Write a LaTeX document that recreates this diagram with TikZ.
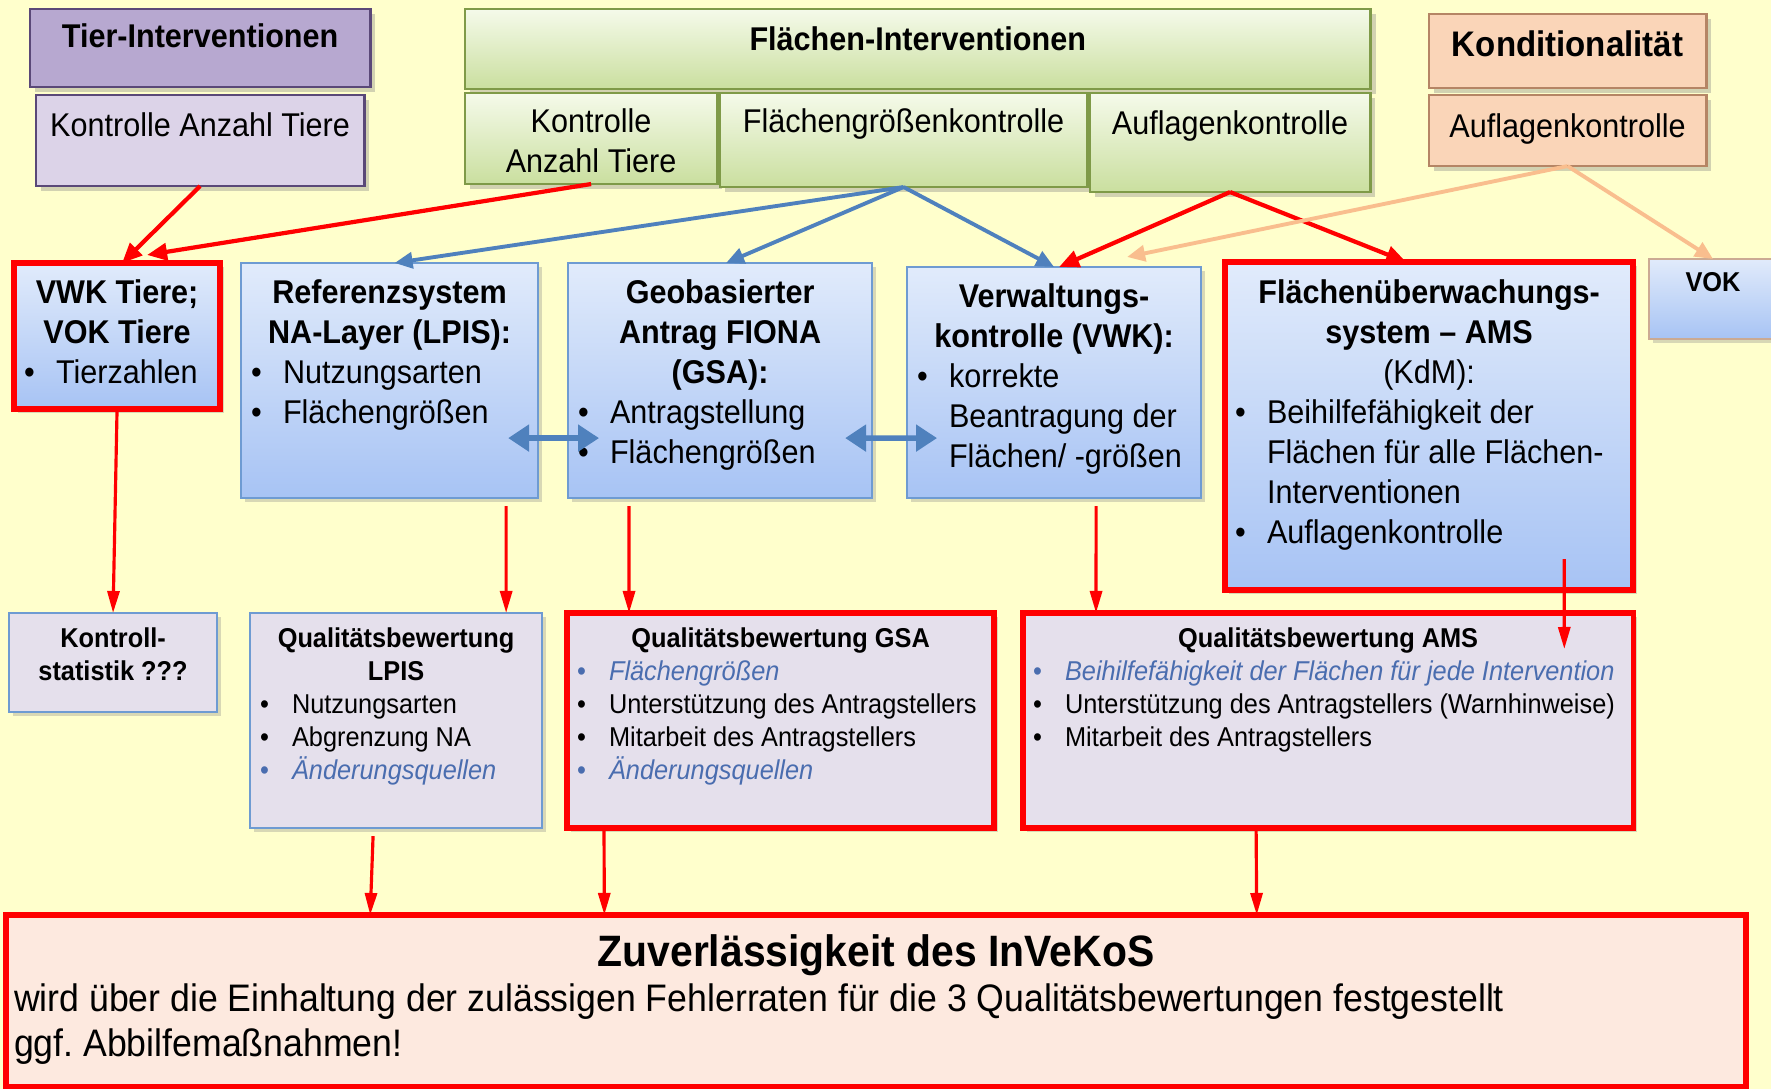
\documentclass[tikz,border=0pt]{standalone}
\usepackage{fontspec}
\setmainfont{Liberation Sans}[FakeStretch=0.93]
\usepackage{tikz}
\usetikzlibrary{arrows.meta, positioning, shadows}

\definecolor{bggelb}{HTML}{FFFFCC}
\definecolor{lilakopf}{HTML}{B7A8D0}
\definecolor{lilahell}{HTML}{DCD3E8}
\definecolor{lilarand}{HTML}{5A4878}
\definecolor{gruenoben}{HTML}{F5FAEA}
\definecolor{gruenunten}{HTML}{CADF9F}
\definecolor{gruenrand}{HTML}{7F9A48}
\definecolor{pfirsichfill}{HTML}{FAD5B8}
\definecolor{pfirsichrand}{HTML}{B58565}
\definecolor{pfeilpfirsich}{HTML}{F9BE8E}
\definecolor{blauoben}{HTML}{E1EBFB}
\definecolor{blauunten}{HTML}{A7C3F4}
\definecolor{blaurand}{HTML}{6E9BD2}
\definecolor{pfeilblau}{HTML}{4F81BD}
\definecolor{lavendel}{HTML}{E5E0EC}
\definecolor{rosa}{HTML}{FDE9DF}
\definecolor{itblau}{HTML}{4A6DAF}

\newcommand{\itm}[2][black]{\par\hangindent=0.34cm\hangafter=1\noindent
  \makebox[0.34cm][l]{\hspace{0.02cm}\textcolor{#1}{\textbullet}}#2}
\newcommand{\itmb}[1]{\itm[itblau]{\textcolor{itblau}{\itshape #1}}}
\frenchspacing

\begin{document}
\begin{tikzpicture}[
    x = 0.01cm, y = -0.01cm,
    box/.style = {anchor=north west, inner xsep=0.08cm, inner ysep=0pt, outer sep=0pt},
    oben/.style = {box, align=flush center, font=\fontsize{9.35}{11.4}\selectfont, line width=0.8pt,
      drop shadow={opacity=0.35, shadow xshift=0.05cm, shadow yshift=-0.05cm}},
    lila/.style = {oben, fill=lilakopf, draw=lilarand},
    lilasub/.style = {oben, fill=lilahell, draw=lilarand},
    gruen/.style = {oben, top color=gruenoben, bottom color=gruenunten, draw=gruenrand},
    pfirsich/.style = {oben, fill=pfirsichfill, draw=pfirsichrand},
    mitte/.style = {box, align=flush left, font=\fontsize{9.35}{11.4}\selectfont,
      top color=blauoben, bottom color=blauunten, draw=blaurand, line width=0.6pt,
      drop shadow={opacity=0.3, shadow xshift=0.04cm, shadow yshift=-0.04cm}},
    unten/.style = {box, align=flush left, font=\fontsize{7.75}{9.4}\selectfont,
      fill=lavendel, draw=blaurand, line width=0.6pt,
      drop shadow={opacity=0.3, shadow xshift=0.04cm, shadow yshift=-0.04cm}},
    rotrand/.style = {draw=red, line width=1.6pt},
    rotpfeil/.style = {red, line width=1.2pt, -{Triangle[length=0.2cm, width=0.17cm]}},
    rotlinie/.style = {red, line width=0.9pt, -{Triangle[length=0.22cm, width=0.12cm]}},
    blaupf/.style = {pfeilblau, line width=1.1pt, -{Triangle[length=0.18cm, width=0.16cm]}},
    pfirsichpf/.style = {pfeilpfirsich, line width=1.1pt, -{Triangle[length=0.18cm, width=0.16cm]}},
    doppelpf/.style = {pfeilblau, line width=1.6pt,
      {Triangle[length=0.21cm, width=0.26cm]}-{Triangle[length=0.21cm, width=0.26cm]}}
    ]

  \useasboundingbox (0,0) rectangle (1771,1089);
  \fill[bggelb] (0,0) rectangle (1771,1089);

  % Kopfzeile
  \node[lila, text width=3.24cm, text height=0.38cm, text depth=0.40cm] (tierkopf) at (30,9) {\bfseries Tier-Interventionen};
  \node[lilasub, text width=3.12cm, text height=0.41cm, text depth=0.50cm] (tierkont) [below=0.08cm of tierkopf] {Kontrolle Anzahl Tiere};

  \node[gruen, text width=8.89cm, text height=0.41cm, text depth=0.39cm] (flkopf) at (465,9) {\bfseries Flächen-Interventionen};
  \node[gruen, text width=2.36cm, text height=0.39cm, text depth=0.52cm] (flkont) at (465,93) {Kontrolle\\Anzahl Tiere};
  \node[gruen, text width=3.51cm, text height=0.39cm, text depth=0.55cm] (flgroesse) at (720,93) {Flächengrößenkontrolle};
  \node[gruen, text width=2.64cm, text height=0.41cm, text depth=0.58cm] (flauflage) at (1090,93) {Auflagenkontrolle};

  \node[pfirsich, text width=2.61cm, text height=0.42cm, text depth=0.32cm, font=\fontsize{10.1}{12}\selectfont] (kondkopf) at (1429,14) {\bfseries Konditionalität};
  \node[pfirsich, text width=2.61cm, text height=0.42cm, text depth=0.29cm] (kondauflage) [below=0.07cm of kondkopf] {Auflagenkontrolle};

  % Systeme
  \node[mitte, rotrand, text width=1.90cm, text height=0.40cm, text depth=1.06cm] (vwktiere) at (14,263)
    {{\centering\bfseries VWK Tiere;\\VOK Tiere\par}\itm{Tierzahlen}\par};
  \node[mitte, text width=2.81cm, text height=0.40cm, text depth=1.95cm] (lpis) at (241,263)
    {{\centering\bfseries Referenzsystem\\NA-Layer (LPIS):\par}\itm{Nutzungsarten}\itm{Flächengrößen}\par};
  \node[mitte, text width=2.88cm, text height=0.40cm, text depth=1.95cm] (gsa) at (568,263)
    {{\centering\bfseries Geobasierter\\Antrag FIONA\\(GSA):\par}\itm{Antragstellung}\itm{Flächengrößen}\par};
  \node[mitte, text width=2.78cm, text height=0.40cm, text depth=1.91cm] (vwk) at (907,267)
    {{\centering\bfseries Verwaltungs-\\kontrolle (VWK):\par}\itm{korrekte\newline Beantragung der\newline Flächen/ -größen}\par};
  \node[mitte, rotrand, text width=3.92cm, text height=0.41cm, text depth=2.87cm] (ams) at (1225,262)
    {{\centering\bfseries Flächenüberwachungs-\\system – AMS\\\mdseries (KdM):\par}\itm{Beihilfefähigkeit der\newline Flächen für alle Flächen-\newline Interventionen}\itm{Auflagenkontrolle}\par};
  \node[mitte, draw=pfirsichrand!70, align=flush center, text width=1.12cm, text height=0.32cm, text depth=0.48cm, font=\fontsize{7.75}{9.4}\selectfont] (vok) at (1649,259) {\bfseries VOK};

  % Qualitaetsbewertungen
  \node[unten, align=flush center, text width=1.92cm, text height=0.34cm, text depth=0.65cm] (kstat) at (9,613) {\bfseries Kontroll-\\statistik ???};
  \node[unten, text width=2.76cm, text height=0.34cm, text depth=1.81cm] (qlpis) at (250,613)
    {{\centering\bfseries Qualitätsbewertung\\LPIS\par}\itm{Nutzungsarten}\itm{Abgrenzung NA}\itmb{Änderungsquellen}\par};
  \node[unten, rotrand, text width=4.11cm, text height=0.34cm, text depth=1.81cm] (qgsa) at (567,613)
    {{\centering\bfseries Qualitätsbewertung GSA\par}\itmb{Flächengrößen}\itm{Unterstützung des Antragstellers}\itm{Mitarbeit des Antragstellers}\itmb{Änderungsquellen}\par};
  \node[unten, rotrand, text width=5.94cm, text height=0.34cm, text depth=1.81cm] (qams) at (1023,613)
    {{\centering\bfseries Qualitätsbewertung AMS\par}\itmb{Beihilfefähigkeit der Flächen für jede Intervention}\itm{Unterstützung des Antragstellers (Warnhinweise)}\itm{Mitarbeit des Antragstellers}\par};

  \node[box, fill=rosa, draw=red, line width=1.6pt, align=flush left, text width=17.23cm, text height=0.51cm, text depth=1.21cm,
    font=\fontsize{10.9}{12.8}\selectfont] (invekos) at (6,915)
    {{\centering\fontsize{12.5}{15}\selectfont\bfseries Zuverlässigkeit des InVeKoS\par}wird über die Einhaltung der zulässigen Fehlerraten für die 3 Qualitätsbewertungen festgestellt\\ggf. Abbilfemaßnahmen!};

  \path[rotpfeil]
  (tierkont.south) edge ([xshift=0.05cm]vwktiere.north)
  (flkont.south) edge ([xshift=0.3cm, yshift=0.08cm]vwktiere.north)
  (flauflage.south) edge ([xshift=0.05cm]vwk.north)
  (flauflage.south) edge ([xshift=-0.23cm]ams.north);

  \path[blaupf]
  (flgroesse.south) edge ([xshift=0.05cm]lpis.north)
  (flgroesse.south) edge ([xshift=0.06cm]gsa.north)
  (flgroesse.south) edge (vwk.north);

  \path[pfirsichpf]
  (kondauflage.south) edge ([xshift=0.73cm, yshift=0.1cm]vwk.north)
  (kondauflage.south) edge (vok.north);

  \draw[doppelpf] ([xshift=-0.3cm, yshift=-0.575cm]lpis.east) -- ([xshift=0.31cm, yshift=-0.575cm]gsa.west);
  \draw[doppelpf] ([xshift=-0.27cm, yshift=-0.575cm]gsa.east) -- ([xshift=0.3cm, yshift=-0.555cm]vwk.west);

  \path[rotlinie]
  (vwktiere.south) edge (kstat.north)
  ([xshift=1.165cm, yshift=-0.08cm]lpis.south) edge ([xshift=1.1cm]qlpis.north)
  ([xshift=-0.91cm, yshift=-0.08cm]gsa.south) edge ([xshift=-1.515cm]qgsa.north)
  ([xshift=0.42cm, yshift=-0.08cm]vwk.south) edge ([xshift=-2.32cm]qams.north)
  ([xshift=1.35cm, yshift=0.31cm]ams.south) edge ([xshift=2.36cm, yshift=-0.36cm]qams.north)
  ([xshift=-0.23cm, yshift=-0.08cm]qlpis.south) edge ([xshift=-5.055cm]invekos.north)
  ([xshift=-1.765cm, yshift=-0.02cm]qgsa.south) edge ([xshift=-2.715cm]invekos.north)
  ([xshift=-0.72cm, yshift=-0.02cm]qams.south) edge ([xshift=3.805cm]invekos.north);
\end{tikzpicture}
\end{document}
